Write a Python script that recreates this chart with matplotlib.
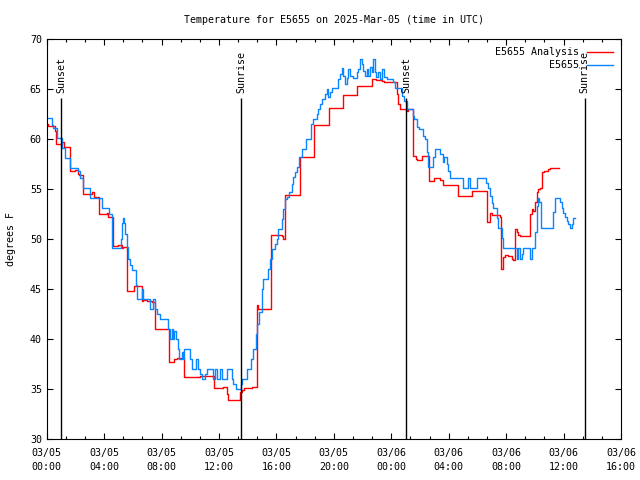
import matplotlib
matplotlib.use('Agg')
import matplotlib.pyplot as plt
from matplotlib.ticker import MultipleLocator, FixedLocator

# hours since 03/05 00:00 UTC, temperatures in degrees F
analysis_t = [0, 0.11, 0.57, 0.65, 1.04, 1.20, 1.62, 1.97, 2.20, 2.27, 2.55, 3.13, 3.30, 3.62,
              4.17, 4.29, 4.64, 4.99, 5.22, 5.33, 5.61, 6.10, 6.61, 6.68, 6.97, 7.31, 7.56,
              8.52, 8.89, 9.05, 9.59, 10.67, 11.65, 12.30, 12.58, 12.65, 13.46, 13.58, 13.74,
              14.31, 14.62, 14.74, 15.59, 16.36, 16.48, 16.59, 17.64, 18.62, 19.66, 20.63,
              21.63, 22.68, 22.97, 23.32, 23.49, 24.41, 24.50, 24.61, 25.07, 25.19, 25.53,
              25.69, 25.81, 26.11, 26.62, 26.97, 27.39, 27.62, 28.66, 29.59, 30.64, 30.86,
              30.99, 31.57, 31.63, 31.80, 31.91, 32.14, 32.38, 32.50, 32.61, 32.73, 32.84,
              32.96, 33.66, 33.77, 33.89, 34.00, 34.12, 34.23, 34.35, 34.53, 34.63, 34.93,
              35.05, 35.65]
analysis_v = [61.5, 61.3, 60.8, 59.5, 59.7, 59.2, 56.8, 56.9, 56.5, 56.4, 54.5, 54.7, 54.2, 52.5,
              52.6, 52.2, 49.3, 49.4, 49.1, 49.2, 44.8, 45.3, 43.8, 43.9, 43.8, 43.7, 41.0,
              37.7, 38.0, 38.1, 36.2, 36.3, 35.1, 35.2, 34.5, 33.9, 34.7, 34.9, 35.1,
              35.2, 43.4, 43.0, 50.4, 50.3, 50.0, 54.4, 58.2, 61.4, 63.1, 64.4,
              65.3, 66.0, 65.9, 65.8, 65.7, 64.5, 63.5, 63.0, 62.8, 63.0, 58.3,
              58.0, 57.9, 58.3, 55.8, 56.1, 55.9, 55.4, 54.3, 54.8, 51.7, 52.6,
              52.4, 52.2, 47.0, 48.2, 48.4, 48.3, 48.0, 47.9, 51.0, 50.7, 50.4,
              50.3, 52.5, 53.0, 52.8, 53.7, 54.7, 55.0, 55.1, 56.7, 56.8, 57.0,
              57.1, 57.1]

obs_t = [0, 0.34, 0.46, 0.70, 1.04, 1.27, 1.62, 2.20, 2.32, 2.55, 3.01, 3.83, 4.36, 4.53,
         5.15, 5.22, 5.29, 5.38, 5.45, 5.57, 5.68, 5.81, 5.92, 6.20, 6.31, 6.61, 6.73, 7.20,
         7.43, 7.55, 7.66, 7.89, 8.47, 8.59, 8.71, 8.82, 8.89, 9.01, 9.12, 9.24, 9.40, 9.52,
         9.59, 9.98, 10.10, 10.40, 10.56, 10.68, 10.85, 10.99, 11.15, 11.61, 11.72, 11.84,
         12.07, 12.19, 12.53, 12.88, 12.99, 13.15, 13.53, 13.62, 13.92, 14.20, 14.38, 14.58,
         14.67, 14.79, 14.97, 15.09, 15.43, 15.55, 15.66, 15.90, 16.02, 16.13, 16.36, 16.48,
         16.59, 16.71, 16.90, 17.06, 17.18, 17.29, 17.41, 17.59, 17.75, 18.05, 18.39, 18.53,
         18.80, 18.91, 19.03, 19.15, 19.37, 19.49, 19.62, 19.73, 19.85, 20.31, 20.42, 20.54,
         20.65, 20.77, 20.89, 21.01, 21.12, 21.35, 21.58, 21.70, 21.81, 21.93, 22.05, 22.17,
         22.28, 22.40, 22.51, 22.63, 22.74, 22.86, 22.97, 23.09, 23.20, 23.32, 23.49, 23.67,
         24.14, 24.26, 24.72, 24.88, 25.07, 25.48, 25.57, 25.76, 25.95, 26.23, 26.34, 26.46,
         26.57, 26.92, 27.03, 27.39, 27.57, 27.67, 27.85, 27.96, 28.08, 28.97, 29.37, 29.47,
         29.94, 30.63, 30.75, 30.87, 30.99, 31.10, 31.33, 31.45, 31.68, 31.80, 32.73, 32.84,
         32.96, 33.08, 33.20, 33.66, 33.77, 34.00, 34.12, 34.23, 34.30, 34.46, 35.28, 35.40,
         35.75, 35.86, 35.99, 36.10, 36.22, 36.34, 36.45, 36.57, 36.69, 36.81]
obs_v = [62.1, 61.4, 61.1, 60.1, 59.1, 58.1, 57.1, 56.8, 56.1, 55.1, 54.1, 53.1, 52.5, 49.1,
         50.0, 51.6, 52.1, 51.6, 50.5, 49.2, 48.0, 47.4, 46.9, 45.4, 44.0, 45.0, 44.0, 43.0,
         44.0, 43.0, 42.5, 42.0, 41.0, 40.0, 41.0, 40.0, 40.8, 40.0, 39.0, 38.0, 38.7, 38.0,
         39.0, 38.0, 37.0, 38.0, 37.0, 36.5, 36.0, 36.5, 37.0, 36.0, 37.0, 36.0,
         37.0, 36.0, 37.0, 36.0, 35.5, 35.0, 35.5, 36.0, 37.0, 38.0, 39.0, 40.5,
         41.5, 42.7, 45.0, 46.0, 47.0, 48.0, 49.0, 49.5, 50.0, 51.0, 52.0, 53.0,
         54.0, 54.2, 54.7, 55.5, 56.2, 56.7, 57.2, 58.2, 59.0, 60.0, 61.5, 62.0,
         62.5, 63.0, 63.5, 64.0, 64.5, 65.0, 64.2, 64.7, 65.1, 66.0, 66.5, 67.1,
         66.3, 65.5, 66.1, 67.0, 66.3, 66.1, 66.7, 67.0, 68.0, 67.5, 66.8, 66.3,
         67.0, 66.3, 67.2, 66.7, 68.0, 66.7, 66.2, 66.7, 66.0, 67.0, 66.2, 66.0,
         65.7, 65.1, 64.3, 63.8, 63.0, 62.3, 62.0, 61.2, 61.0, 60.3, 60.0, 58.7,
         57.2, 58.2, 59.0, 58.5, 57.7, 58.2, 57.5, 56.8, 56.1, 55.1, 56.1, 55.1,
         56.1, 55.6, 55.1, 54.3, 53.6, 53.1, 52.1, 51.1, 50.1, 49.1, 48.0, 49.1,
         48.0, 48.5, 49.1, 48.0, 49.1, 50.7, 53.3, 54.1, 53.7, 51.1, 52.7, 54.1,
         53.7, 53.1, 52.6, 52.2, 51.8, 51.5, 51.1, 51.5, 52.1, 52.1]

sun_t = [1.0, 13.55, 25.02, 37.48]
sun_labels = ['Sunset', 'Sunrise', 'Sunset', 'Sunrise']

tick_hours = [0, 4, 8, 12, 16, 20, 24, 28, 32, 36, 40]
tick_labels = ['03/05\n00:00', '03/05\n04:00', '03/05\n08:00', '03/05\n12:00', '03/05\n16:00',
               '03/05\n20:00', '03/06\n00:00', '03/06\n04:00', '03/06\n08:00', '03/06\n12:00',
               '03/06\n16:00']

plt.rcParams['font.family'] = ['DejaVu Sans Mono']
fs = 7.2

fig = plt.figure(figsize=(6.4, 4.8), dpi=100)
ax = fig.add_axes([0.073, 0.0848, 0.8973, 0.8333])

ax.plot(analysis_t, analysis_v, drawstyle='steps-post', color='#ff0000', lw=1.0,
        label='E5655 Analysis')
ax.plot(obs_t, obs_v, drawstyle='steps-post', color='#0a84ff', lw=1.0, label='E5655')

for t, lab in zip(sun_t, sun_labels):
    ax.vlines(t, 30, 64.1, color='black', lw=1.0)
    ax.text(t, 64.6, lab, rotation=90, ha='center', va='bottom', fontsize=fs)

ax.set_xlim(0, 40)
ax.set_ylim(30, 70)
ax.xaxis.set_major_locator(FixedLocator(tick_hours))
ax.set_xticklabels(tick_labels, linespacing=1.6)
ax.xaxis.set_minor_locator(MultipleLocator(4 / 3))
ax.yaxis.set_major_locator(MultipleLocator(5))
ax.tick_params(which='both', direction='in', top=True, right=True, labelsize=fs, width=0.8)
ax.tick_params(which='major', length=4.5)
ax.tick_params(which='minor', length=2.2)
ax.tick_params(axis='x', pad=6)
for s in ax.spines.values():
    s.set_linewidth(0.8)

ax.set_ylabel('degrees F', fontsize=fs, labelpad=10)
ax.set_title('Temperature for E5655 on 2025-Mar-05 (time in UTC)', fontsize=fs, pad=12)

ax.legend(loc='upper right', frameon=False, markerfirst=False, fontsize=fs,
          handlelength=2.6, labelspacing=0.3, borderpad=0.1, borderaxespad=0.7,
          handletextpad=0.8)

fig.savefig('out.png', dpi=100)
